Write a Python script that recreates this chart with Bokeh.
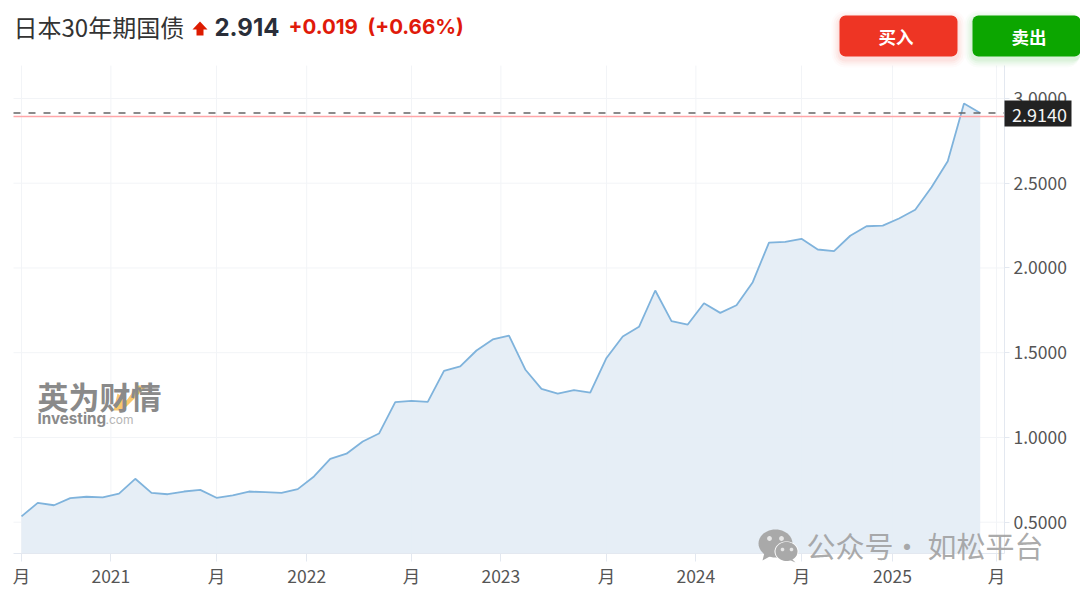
import numpy as np
from bokeh.plotting import figure
from bokeh.models import (BoxAnnotation, Label, PolyAnnotation, FixedTicker,
                          NumeralTickFormatter, LinearAxis)
from bokeh.embed import file_html
from bokeh.resources import INLINE

# ---------- data ----------
yields = [0.534, 0.614, 0.600, 0.642, 0.650, 0.646, 0.669, 0.756, 0.673, 0.665,
          0.681, 0.691, 0.644, 0.658, 0.681, 0.677, 0.673, 0.695, 0.770, 0.873,
          0.904, 0.976, 1.023, 1.208, 1.216, 1.210, 1.393, 1.419, 1.513, 1.578,
          1.601, 1.401, 1.287, 1.258, 1.279, 1.265, 1.469, 1.596, 1.653, 1.867,
          1.686, 1.666, 1.792, 1.735, 1.780, 1.916, 2.150, 2.154, 2.172, 2.109,
          2.099, 2.190, 2.246, 2.250, 2.292, 2.343, 2.476, 2.630, 2.970, 2.914]
month_index = list(range(len(yields)))
x_tick_pos = [0, 5.5, 12, 17.55, 24, 29.5, 36, 41.5, 48, 53.6, 60]
x_tick_labels = ["月", "2021", "月", "2022", "月", "2023", "月", "2024", "月", "2025", "月"]
y_ticks = [0.5, 1.0, 1.5, 2.0, 2.5, 3.0]
last_price = 2.914
red_level = 2.893

# the plot area proper inside the full-page frame
AREA_X = (-0.492, 60.49)
AREA_Y = (0.315, 3.194)
# the frame fills the page, so that header and tag can sit in it
X_RANGE = (-1.292, 65.17)
Y_RANGE = (0.097, 3.578)

CJK = "Noto Sans CJK SC"
W, H = 1080, 590

p = figure(width=W, height=H, output_backend="svg", toolbar_location=None,
           x_range=X_RANGE, y_range=Y_RANGE, x_axis_location=None, y_axis_location=None,
           min_border=0)
p.outline_line_color = None
p.background_fill_color = "white"
p.xgrid.visible = False
p.ygrid.visible = False

GRID = "#f2f4f7"
p.segment(x0=x_tick_pos, x1=x_tick_pos, y0=[AREA_Y[0]] * len(x_tick_pos), y1=[AREA_Y[1]] * len(x_tick_pos),
          line_color=GRID, line_width=1)
p.segment(x0=[AREA_X[0]] * len(y_ticks), x1=[AREA_X[1]] * len(y_ticks), y0=y_ticks, y1=y_ticks,
          line_color=GRID, line_width=1)

p.varea(x=month_index, y1=AREA_Y[0], y2=yields, fill_color="#e4edf5", fill_alpha=0.92)
p.line(x=month_index, y=yields, line_color="#7fb3dc", line_width=1.8)

p.line(x=list(AREA_X), y=[red_level, red_level], line_color="#ffa6a9", line_width=1.5)
p.line(x=list(AREA_X), y=[last_price, last_price], line_color="#666666", line_width=1.5, line_dash="7 8")

xa = LinearAxis(fixed_location=AREA_Y[0], bounds=AREA_X)
xa.ticker = FixedTicker(ticks=x_tick_pos)
xa.major_label_overrides = dict(zip(x_tick_pos, x_tick_labels))
ya = LinearAxis(fixed_location=AREA_X[1], bounds=AREA_Y)
ya.ticker = FixedTicker(ticks=y_ticks)
ya.formatter = NumeralTickFormatter(format="0.0000")
for a in (xa, ya):
    a.axis_line_color = "#e3e8f0"
    a.major_tick_line_color = "#e3e8f0"
    a.minor_tick_line_color = None
    a.major_tick_in = 0
    a.major_label_text_color = "#555555"
    a.major_label_text_font = CJK
    a.major_label_text_font_size = "17.5px"
xa.major_tick_out = 8
xa.major_label_standoff = 1
ya.major_tick_out = 5
ya.major_label_standoff = 4
p.add_layout(xa, "below")
p.add_layout(ya, "right")


def box(l, r, t, b, color, alpha=1.0, radius=0):
    p.add_layout(BoxAnnotation(left=l, right=r, top=t, bottom=b,
                               left_units="canvas", right_units="canvas",
                               top_units="canvas", bottom_units="canvas",
                               fill_color=color, fill_alpha=alpha, line_color=None,
                               border_radius=radius, level="annotation"))


def poly(xs, ys, color, alpha=1.0):
    p.add_layout(PolyAnnotation(xs=list(xs), ys=list(ys),
                                xs_units="canvas", ys_units="canvas",
                                fill_color=color, fill_alpha=alpha, line_color=None,
                                level="annotation"))


def ellipse(cx, cy, rx, ry, color, alpha=1.0):
    t = np.linspace(0, 2 * np.pi, 48, endpoint=False)
    poly(list(cx + rx * np.cos(t)), list(cy + ry * np.sin(t)), color, alpha)


def text(x, y, s, size, color, font=CJK, style="normal", align="left", alpha=1.0):
    p.add_layout(Label(x=x, y=y, x_units="canvas", y_units="canvas", text=s,
                       text_font=font, text_font_size=f"{size}px", text_color=color,
                       text_font_style=style, text_align=align, text_baseline="middle",
                       text_alpha=alpha, level="annotation"))


# last-price tag
box(1004, 1071, 100, 126, "#222222")
text(1039, 114, "2.9140", 18, "#f4f4f4", align="center")

# header
text(13, 26, "日本30年期国债", 24, "#333333")
poly([199.5, 207, 203, 203, 196, 196, 192], [21, 29, 29, 35, 35, 29, 29], "#dd1b00")
text(214, 26, "2.914", 24, "#2a2e39", font="Inter", style="bold")
text(288, 26, "+0.019", 20.5, "#e01a0a", font="Inter", style="bold")
text(367, 26, "(+0.66%)", 20.5, "#e01a0a", font="Inter", style="bold")

# buttons
for l, r, cx, fill, caption in [(839, 957, 895.5, "#ee3524", "买入"), (972, 1080, 1028.5, "#0ca600", "卖出")]:
    for grow, a in [(8, 0.02), (6, 0.03), (4, 0.04), (2, 0.05)]:
        box(l - grow, min(r + grow, 1080), 15 - grow + 3, 56 + grow + 3, fill, a, 6 + grow)
    box(l, r, 15, 56, fill, 1.0, 6)
    text(cx, 36, caption, 17.5, "#ffffff", style="bold", align="center")

# Investing watermark
poly([113, 122, 147, 137, 126, 117], [410, 410, 385, 385, 400, 393], "#f8c25c", 0.9)
text(37, 395, "英为财情", 31, "#8a8a8a", style="bold")
text(37, 418, "Investing", 15.2, "#8a8a8a", font="Inter", style="bold")
text(105, 419, ".com", 12, "#b5b5b5", font="Inter")

# WeChat watermark
ellipse(775, 543, 17, 14, "#a9a9a9")
poly([764, 762, 771], [552, 560, 555], "#a9a9a9")
ellipse(769, 538, 2.4, 2.4, "#e8e8e8")
ellipse(781, 538, 2.4, 2.4, "#e8e8e8")
ellipse(786, 551, 12, 10, "#ffffff")
ellipse(786, 551, 11, 9.5, "#a9a9a9")
poly([791, 795, 788], [558, 562, 559], "#a9a9a9")
ellipse(782, 549, 1.8, 1.8, "#e8e8e8")
ellipse(791, 549, 1.8, 1.8, "#e8e8e8")
for x0, s in [(806, "公"), (835, "众"), (864, "号"), (892, "·"), (927, "如"), (956, "松"), (985, "平"), (1014, "台")]:
    text(x0, 544, s, 29, "#9c9c9c", alpha=0.85)

open("out.html", "w").write(file_html(p, INLINE))
